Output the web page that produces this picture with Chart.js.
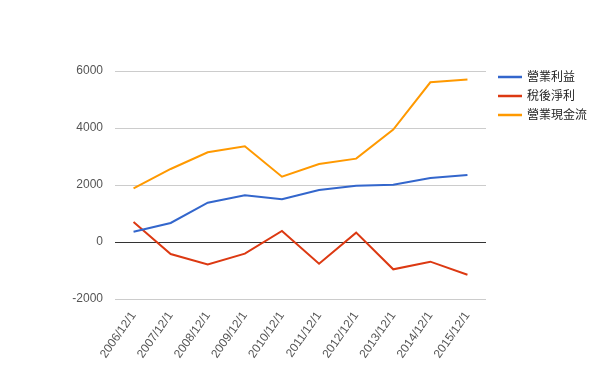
<!DOCTYPE html>
<html>
<head>
<meta charset="utf-8">
<script src="https://cdn.jsdelivr.net/npm/chart.js@4"></script>
<style>
html,body{margin:0;padding:0;background:#fff;}
#wrap{width:600px;height:371px;position:relative;}
</style>
</head>
<body>
<div id="wrap"><canvas id="c" width="600" height="371"></canvas></div>
<script>
const categories = ['2006/12/1','2007/12/1','2008/12/1','2009/12/1','2010/12/1','2011/12/1','2012/12/1','2013/12/1','2014/12/1','2015/12/1'];
const operatingProfit = [363, 667, 1380, 1638, 1498, 1825, 1977, 2012, 2246, 2352];
const netIncome = [702, -421, -784, -410, 386, -760, 328, -959, -690, -1147];
const operatingCashFlow = [1884, 2562, 3147, 3358, 2293, 2738, 2925, 3943, 5604, 5698];
const seriesNames = ['營業利益', '稅後淨利', '營業現金流'];
const yTicks = [-2000, 0, 2000, 4000, 6000];

const FONT = '"Liberation Sans", Arial, "Noto Sans CJK TC", sans-serif';

const sideLegend = {
  id: 'sideLegend',
  afterDraw(chart) {
    const ctx = chart.ctx;
    const x0 = chart.chartArea.right + 12;
    const y0 = chart.chartArea.top + 6;
    ctx.save();
    ctx.font = '12px ' + FONT;
    ctx.textBaseline = 'middle';
    ctx.textAlign = 'left';
    chart.data.datasets.forEach((ds, i) => {
      const y = y0 + i * 19;
      ctx.strokeStyle = ds.borderColor;
      ctx.lineWidth = 2.5;
      ctx.beginPath();
      ctx.moveTo(x0, y);
      ctx.lineTo(x0 + 24, y);
      ctx.stroke();
      ctx.fillStyle = '#222';
      ctx.fillText(ds.label, x0 + 29, y + 0.5);
    });
    ctx.restore();
  }
};

new Chart(document.getElementById('c'), {
  type: 'line',
  data: {
    labels: categories,
    datasets: [
      { label: seriesNames[0], data: operatingProfit, borderColor: '#3366cc', backgroundColor: '#3366cc' },
      { label: seriesNames[1], data: netIncome, borderColor: '#dc3912', backgroundColor: '#dc3912' },
      { label: seriesNames[2], data: operatingCashFlow, borderColor: '#ff9900', backgroundColor: '#ff9900' }
    ]
  },
  options: {
    responsive: false,
    animation: false,
    devicePixelRatio: 1,
    layout: { padding: { top: 71, right: 114, left: 0, bottom: 0 } },
    elements: {
      line: { borderWidth: 2, tension: 0 },
      point: { radius: 0, hoverRadius: 0 }
    },
    plugins: {
      legend: { display: false },
      tooltip: { enabled: false }
    },
    scales: {
      x: {
        offset: true,
        grid: { display: false, drawTicks: false },
        border: { display: false },
        ticks: {
          color: '#555',
          font: { family: FONT, size: 12 },
          minRotation: 55,
          maxRotation: 55,
          autoSkip: false,
          padding: 10
        },
        afterFit(s) { s.height = 72; }
      },
      y: {
        min: -2000,
        max: 6000,
        afterBuildTicks(s) { s.ticks = yTicks.map(v => ({ value: v })); },
        grid: {
          drawTicks: false,
          color: (c) => (c.tick && c.tick.value === 0) ? '#333' : '#ccc',
          lineWidth: 1
        },
        border: { display: false },
        ticks: {
          color: '#555',
          font: { family: FONT, size: 12 },
          padding: 12,
          callback: (v) => String(v)
        },
        afterFit(s) { s.width = 115; }
      }
    }
  },
  plugins: [sideLegend]
});
</script>
</body>
</html>
